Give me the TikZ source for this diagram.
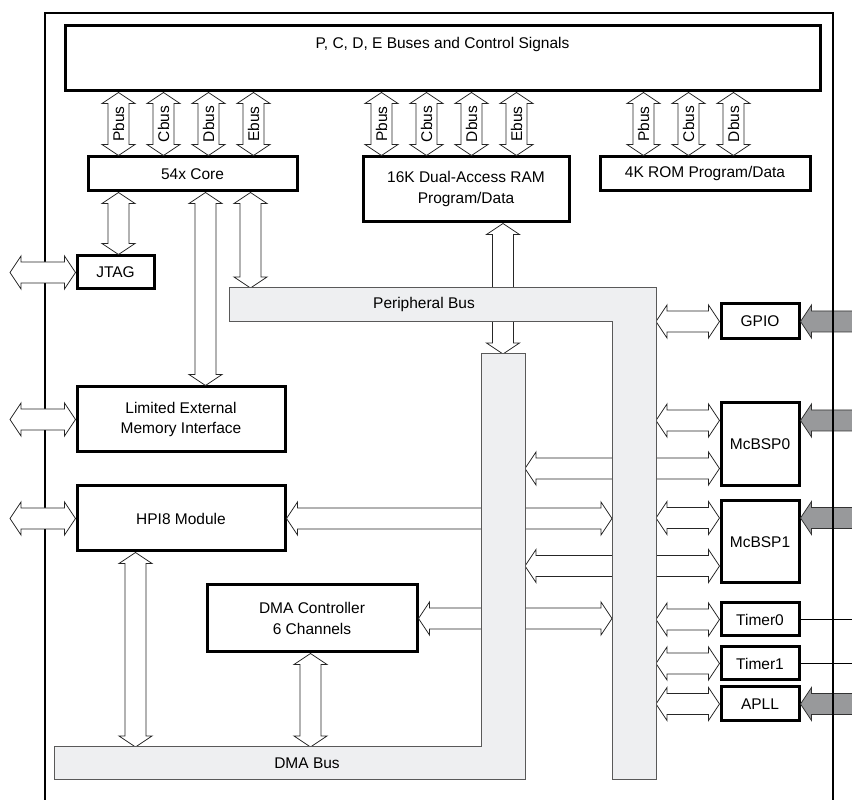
\documentclass[tikz,border=0pt]{standalone}
\usepackage{fontspec}
\setmainfont{Liberation Sans}
\usetikzlibrary{calc}
\definecolor{busgray}{RGB}{238,239,241}
\definecolor{pingray}{RGB}{152,153,155}
% hollow bus arrows: shaft half width, head half width, head length
\def\shw{10.5}
\def\hdw{16.5}
\def\hdl{11}
\def\vdbl[#1](#2)(#3){\draw[#1] ($(#2)+(-\shw,-\hdl)$) -- ($(#2)+(-\hdw,-\hdl)$) -- (#2) -- ($(#2)+(\hdw,-\hdl)$) -- ($(#2)+(\shw,-\hdl)$) -- ($(#3)+(\shw,\hdl)$) -- ($(#3)+(\hdw,\hdl)$) -- (#3) -- ($(#3)+(-\hdw,\hdl)$) -- ($(#3)+(-\shw,\hdl)$) -- cycle;}
\def\hdbl[#1](#2)(#3){\draw[#1] ($(#2)+(\hdl,\shw)$) -- ($(#2)+(\hdl,\hdw)$) -- (#2) -- ($(#2)+(\hdl,-\hdw)$) -- ($(#2)+(\hdl,-\shw)$) -- ($(#3)+(-\hdl,-\shw)$) -- ($(#3)+(-\hdl,-\hdw)$) -- (#3) -- ($(#3)+(-\hdl,\hdw)$) -- ($(#3)+(-\hdl,\shw)$) -- cycle;}
\def\hlft[#1](#2)(#3){\draw[#1] ($(#3)+(0,\shw)$) -- ($(#2)+(\hdl,\shw)$) -- ($(#2)+(\hdl,\hdw)$) -- (#2) -- ($(#2)+(\hdl,-\hdw)$) -- ($(#2)+(\hdl,-\shw)$) -- ($(#3)+(0,-\shw)$);}
\def\hrgt[#1](#2)(#3){\draw[#1] ($(#2)+(0,\shw)$) -- ($(#3)+(-\hdl,\shw)$) -- ($(#3)+(-\hdl,\hdw)$) -- (#3) -- ($(#3)+(-\hdl,-\hdw)$) -- ($(#3)+(-\hdl,-\shw)$) -- ($(#2)+(0,-\shw)$);}
\tikzset{
  blk/.style={draw, line width=3pt, fill=white, inner sep=0pt, align=center, font=\fontsize{15.5}{21}\selectfont},
  busarrow/.style={draw=black!85, fill=white, line width=0.8pt},
  pinarrow/.style={draw=black!80, fill=pingray, line width=0.8pt},
  busway/.style={draw=black!65, fill=busgray, line width=1pt},
  buslabel/.style={font=\fontsize{15.5}{21}\selectfont},
  chipedge/.style={line width=2.8pt, line join=miter}
}

\begin{document}
\begin{tikzpicture}[x=1pt,y=1pt]
	\useasboundingbox (0,0) rectangle (852,800);
	%%%%% START %%%%%
	
	% edges of the buses and pins
	\coordinate (pin) at (10,0);
	\coordinate (edge) at (858,0);
	\coordinate (pb) at (612,0);
	\coordinate (pbr) at (656,0);
	\coordinate (db) at (525,0);
	\coordinate (pbtop) at (0,512);
	\coordinate (dbtop) at (503,446);
	\coordinate (dbbot) at (0,53);
	
	\node[blk, minimum width=755pt, minimum height=65pt, label={[buslabel,anchor=center,yshift=-20pt]north:{P, C, D, E Buses and Control Signals}}] (ctrl) at (442.5,741.5) {};
	\node[blk, minimum width=209pt, minimum height=34pt] (core) at (192.5,626) {54x Core};
	\node[blk, minimum width=206pt, minimum height=65pt] (ram) at (466,610.5) {16K Dual-Access RAM\\Program/Data};
	\node[blk, minimum width=210pt, minimum height=34pt] (rom) at (705,626) {4K ROM Program/Data};
	\node[blk, minimum width=77pt, minimum height=33pt] (jtag) at (115.5,527.5) {JTAG};
	\node[blk, minimum width=208pt, minimum height=65pt] (lemi) at (181,380.5) {Limited External\\Memory Interface};
	\node[blk, minimum width=208pt, minimum height=65pt] (hpi) at (181,281.5) {HPI8 Module};
	\node[blk, minimum width=210pt, minimum height=67pt] (dmac) at (312,181.5) {DMA Controller\\6 Channels};
	
	\node[blk, minimum width=78pt, minimum height=35pt] (gpio) at (760,478.5) {GPIO};
	\node[blk, minimum width=78pt, minimum height=83pt] (mcbsp0) at (760,355.5) {McBSP0};
	\node[blk, minimum width=78pt, minimum height=82pt] (mcbsp1) at (760,258) {McBSP1};
	\node[blk, minimum width=78pt, minimum height=33pt] (timer0) at (760,180.5) {Timer0};
	\node[blk, minimum width=78pt, minimum height=33pt] (timer1) at (760,136.5) {Timer1};
	\node[blk, minimum width=78pt, minimum height=34pt] (apll) at (760,96) {APLL};
	
	\coordinate (m0a) at ($(mcbsp0.west)+(0,24)$);
	\coordinate (m0b) at ($(mcbsp0.west)+(0,-24)$);
	\coordinate (m1a) at ($(mcbsp1.west)+(0,24)$);
	\coordinate (m1b) at ($(mcbsp1.west)+(0,-24)$);
	\coordinate (m0e) at ($(mcbsp0.east)+(0,24)$);
	\coordinate (m1e) at ($(mcbsp1.east)+(0,24)$);
	
	% external pins
	\hlft[pinarrow](gpio.east)(gpio.east -| edge)
	\hlft[pinarrow](m0e)(m0e -| edge)
	\hlft[pinarrow](m1e)(m1e -| edge)
	\hlft[pinarrow](apll.east)(apll.east -| edge)
	\draw[line width=0.8pt] (timer0.east) -- (timer0.east -| edge);
	\draw[line width=0.8pt] (timer1.east) -- (timer1.east -| edge);
	
	\draw[chipedge] (45,-5) -- (45,787) -- (833,787) -- (833,-5);
	
	\hdbl[busarrow](pin |- jtag.west)(jtag.west)
	\hdbl[busarrow](pin |- lemi.west)(lemi.west)
	\hdbl[busarrow](pin |- hpi.west)(hpi.west)
	
	% program/data buses
	\foreach \dx/\bn in {32/Pbus,77/Cbus,122/Dbus,167/Ebus} {
		\path ($(core.north west)+(\dx,0)$) coordinate (b) (b |- ctrl.south) coordinate (t);
		\vdbl[busarrow](t)(b)
		\node[buslabel, rotate=90] (core\bn) at ($(t)!0.5!(b)$) {\bn};
	}
	\foreach \dx/\bn in {20/Pbus,65/Cbus,110/Dbus,155/Ebus} {
		\path ($(ram.north west)+(\dx,0)$) coordinate (b) (b |- ctrl.south) coordinate (t);
		\vdbl[busarrow](t)(b)
		\node[buslabel, rotate=90] (ram\bn) at ($(t)!0.5!(b)$) {\bn};
	}
	\foreach \dx/\bn in {45/Pbus,90/Cbus,135/Dbus} {
		\path ($(rom.north west)+(\dx,0)$) coordinate (b) (b |- ctrl.south) coordinate (t);
		\vdbl[busarrow](t)(b)
		\node[buslabel, rotate=90] (rom\bn) at ($(t)!0.5!(b)$) {\bn};
	}
	
	\path ($(core.south west)+(32,0)$) coordinate (a) (a |- jtag.north) coordinate (b);
	\vdbl[busarrow](a)(b)
	\path ($(core.south west)+(119,0)$) coordinate (a) (a |- lemi.north) coordinate (b);
	\vdbl[busarrow](a)(b)
	\path ($(core.south west)+(164,0)$) coordinate (a) (a |- pbtop) coordinate (b);
	\vdbl[busarrow](a)(b)
	\vdbl[busarrow](dbtop |- ram.south)(dbtop)
	\path ($(hpi.south west)+(60,0)$) coordinate (a) (a |- dbbot) coordinate (b);
	\vdbl[busarrow](a)(b)
	\path ($(dmac.south west)+(105,0)$) coordinate (a) (a |- dbbot) coordinate (b);
	\vdbl[busarrow](a)(b)
	
	\hdbl[busarrow](hpi.east)(pb |- hpi.east)
	\hdbl[busarrow](dmac.east)(pb |- dmac.east)
	\hlft[busarrow](db |- m0b)(pb |- m0b)
	\hlft[busarrow](db |- m1b)(pb |- m1b)
	
	\hdbl[busarrow](pbr |- gpio.west)(gpio.west)
	\hdbl[busarrow](pbr |- m0a)(m0a)
	\hrgt[busarrow](pbr |- m0b)(m0b)
	\hdbl[busarrow](pbr |- m1a)(m1a)
	\hrgt[busarrow](pbr |- m1b)(m1b)
	\hdbl[busarrow](pbr |- timer0.west)(timer0.west)
	\hdbl[busarrow](pbr |- timer1.west)(timer1.west)
	\hdbl[busarrow](pbr |- apll.west)(apll.west)
	
	% peripheral and DMA buses
	\draw[busway] (229,512) -- (656,512) -- (656,20) -- (612,20) -- (612,478) -- (229,478) -- cycle;
	\draw[busway] (481,446) -- (525,446) -- (525,20) -- (54,20) -- (54,53) -- (481,53) -- cycle;
	\node[buslabel] (pbuslbl) at (424,495) {Peripheral Bus};
	\node[buslabel] (dbuslbl) at (307,37) {DMA Bus};
	
	%%%%% END %%%%%
\end{tikzpicture}
\end{document}
